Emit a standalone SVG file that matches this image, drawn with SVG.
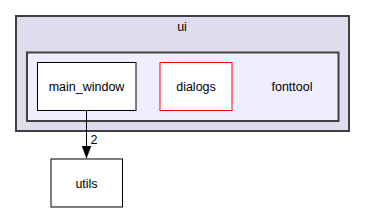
<svg xmlns="http://www.w3.org/2000/svg" width="365" height="212" viewBox="0 0 365 212">
<style>
text{font-family:"Liberation Sans",Arial,sans-serif;font-size:12.5px;text-anchor:middle;fill:#000}
.node{fill:#fff;stroke:#000;stroke-width:1}
</style>
<defs>
<marker id="arr" markerWidth="12" markerHeight="10" refX="12" refY="5" orient="auto" markerUnits="userSpaceOnUse">
<path d="M0,0.5 L12,5 L0,9.5 z" fill="#000" stroke="#000" stroke-width="0.5"/>
</marker>
</defs>
<g id="cluster_ui">
<rect x="16" y="16" width="333" height="115" fill="#ddddee" stroke="#404040" stroke-width="2"/>
<text x="182" y="31">ui</text>
</g>
<g id="cluster_fonttool">
<rect x="27" y="52.5" width="311.5" height="68.5" fill="#eeeeff" stroke="#404040" stroke-width="2"/>
<text x="292" y="90.5">fonttool</text>
</g>
<g id="main_window">
<rect class="node" x="37.5" y="62.5" width="98.5" height="48"/>
<text x="86.5" y="90.5">main_window</text>
</g>
<g id="dialogs">
<rect x="160" y="62.5" width="72" height="48" fill="#fff" stroke="#ff0000" stroke-width="1"/>
<text x="196" y="90.5">dialogs</text>
</g>
<g id="utils">
<rect class="node" x="51" y="159" width="71.5" height="48"/>
<text x="86.5" y="187.5">utils</text>
</g>
<g id="edges">
<line x1="86.5" y1="110.5" x2="86.5" y2="158" stroke="#000" stroke-width="1" marker-end="url(#arr)"/>
<text x="94" y="144">2</text>
</g>
</svg>
